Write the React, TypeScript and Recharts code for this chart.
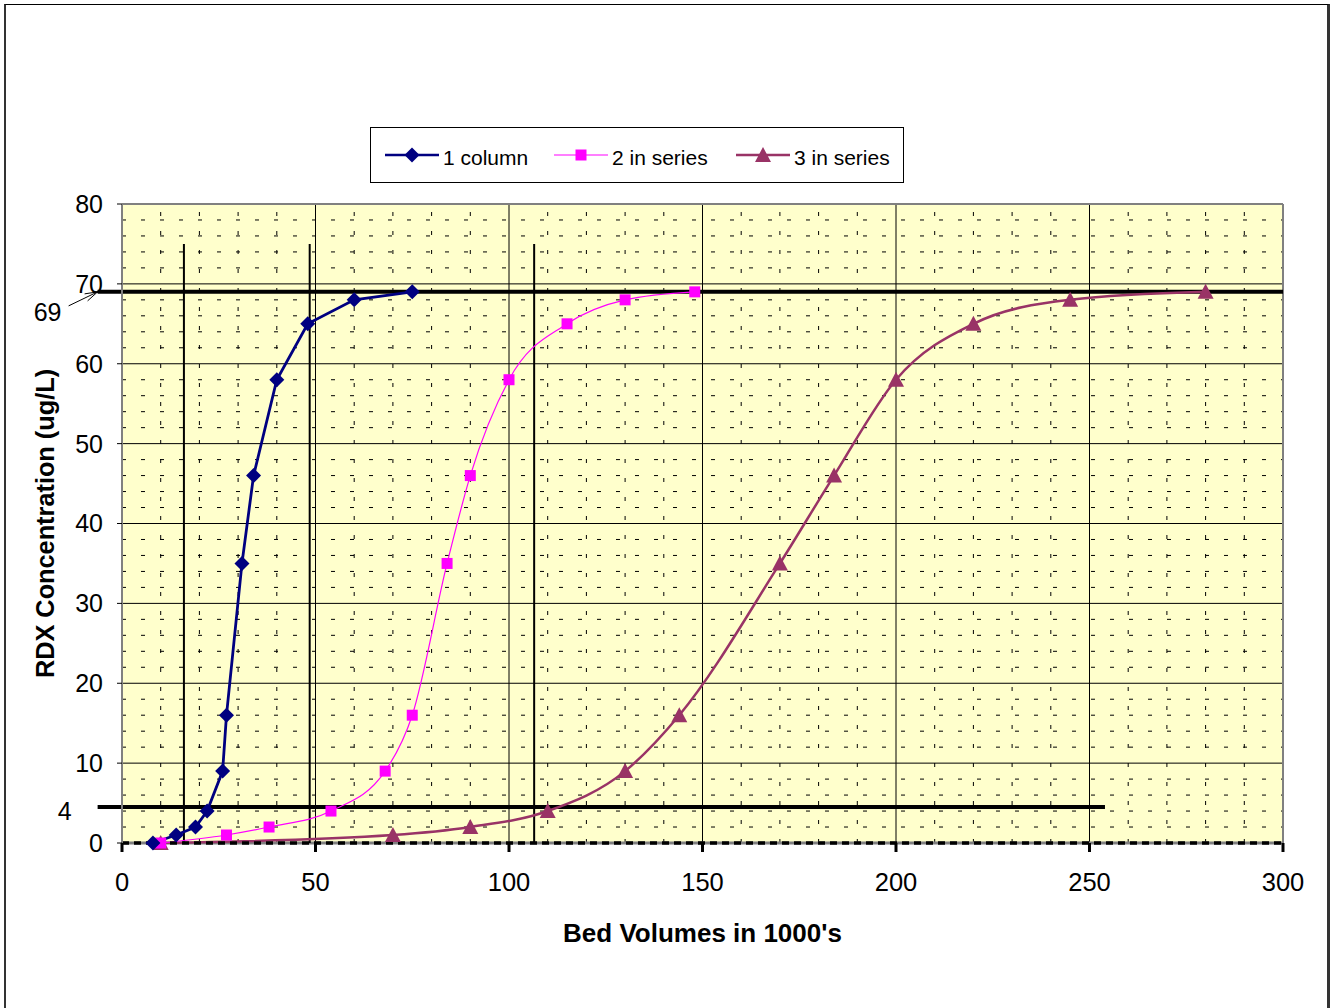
import React from 'react';
import { LineChart, Line, XAxis, YAxis, CartesianGrid, ReferenceLine } from 'recharts';

// Breakthrough data (bed volumes in 1000's vs RDX ug/L)
const oneColumn = [
  { x: 8, y: 0 }, { x: 14, y: 1 }, { x: 19, y: 2 }, { x: 22, y: 4 },
  { x: 26, y: 9 }, { x: 27, y: 16 }, { x: 31, y: 35 }, { x: 34, y: 46 },
  { x: 40, y: 58 }, { x: 48, y: 65 }, { x: 60, y: 68 }, { x: 75, y: 69 },
];
const twoInSeries = [
  { x: 10, y: 0 }, { x: 27, y: 1 }, { x: 38, y: 2 }, { x: 54, y: 4 },
  { x: 68, y: 9 }, { x: 75, y: 16 }, { x: 84, y: 35 }, { x: 90, y: 46 },
  { x: 100, y: 58 }, { x: 115, y: 65 }, { x: 130, y: 68 }, { x: 148, y: 69 },
];
const threeInSeries = [
  { x: 10, y: 0 }, { x: 70, y: 1 }, { x: 90, y: 2 }, { x: 110, y: 4 },
  { x: 130, y: 9 }, { x: 144, y: 16 }, { x: 170, y: 35 }, { x: 184, y: 46 },
  { x: 200, y: 58 }, { x: 220, y: 65 }, { x: 245, y: 68 }, { x: 280, y: 69 },
];

const xTicks = [0, 50, 100, 150, 200, 250, 300];
const yTicks = [0, 10, 20, 30, 40, 50, 60, 70, 80];
const minorX = [10, 20, 30, 40, 60, 70, 80, 90, 110, 120, 130, 140, 160, 170, 180, 190, 210, 220, 230, 240, 260, 270, 280, 290];
const minorY = [2, 4, 6, 8, 12, 14, 16, 18, 22, 24, 26, 28, 32, 34, 36, 38, 42, 44, 46, 48, 52, 54, 56, 58, 62, 64, 66, 68, 72, 74, 76, 78];
const markerLines = [16, 48.5, 106.5];

const font = '"Liberation Sans", Arial, sans-serif';
const NAVY = '#000080';
const MAGENTA = '#FF00FF';
const PLUM = '#993366';

const diamond = (cx: number, cy: number, key?: string) => (
  <path key={key} d={`M${cx},${cy - 7.5} L${cx + 7.5},${cy} L${cx},${cy + 7.5} L${cx - 7.5},${cy} Z`} fill={NAVY} />
);
const square = (cx: number, cy: number, key?: string) => (
  <rect key={key} x={cx - 5.5} y={cy - 5.5} width={11} height={11} fill={MAGENTA} />
);
const triangle = (cx: number, cy: number, key?: string) => (
  <path key={key} d={`M${cx},${cy - 8} L${cx + 8},${cy + 7} L${cx - 8},${cy + 7} Z`} fill={PLUM} />
);

const dotFn = (shape: typeof diamond) => (props: any) => {
  const { cx, cy, index } = props;
  if (cx == null || cy == null) return <g key={`e${index}`} />;
  return shape(cx, cy, `d${index}`);
};

const legendItems = [
  { name: '1 column', color: NAVY, width: 2.5, shape: diamond, left: 13 },
  { name: '2 in series', color: MAGENTA, width: 1.2, shape: square, left: 182 },
  { name: '3 in series', color: PLUM, width: 2.5, shape: triangle, left: 364 },
];

const App: React.FC = () => {
  return (
    <div style={{ position: 'absolute', left: 0, top: 0, width: 1330, height: 1008, overflow: 'hidden', background: '#fff', fontFamily: font }}>
      <div style={{ position: 'absolute', left: 4, top: 4, width: 1321, height: 1010, borderTop: '1px solid #000', borderLeft: '2px solid #333', borderRight: '3px solid #333' }} />

      <div style={{ position: 'absolute', left: 0, top: 0 }}>
        <LineChart width={1330} height={1008} margin={{ top: 204, right: 47, bottom: 0, left: 0 }}>
          <CartesianGrid fill="#FFFFCC" fillOpacity={1} stroke="#000" strokeWidth={1} />
          {minorY.map((v) => (
            <ReferenceLine key={`my${v}`} y={v} stroke="#000" strokeWidth={1} strokeDasharray="4 15" />
          ))}
          {minorX.map((v) => (
            <ReferenceLine key={`mx${v}`} x={v} stroke="#000" strokeWidth={1} strokeDasharray="4 15" />
          ))}
          <ReferenceLine y={80} stroke="#808080" strokeWidth={2} />
          <ReferenceLine x={300} stroke="#808080" strokeWidth={2} />
          <ReferenceLine y={0} stroke="#808080" strokeWidth={3} />
          {markerLines.map((v) => (
            <ReferenceLine key={`v${v}`} segment={[{ x: v, y: 0 }, { x: v, y: 75 }]} stroke="#000" strokeWidth={2} />
          ))}
          <ReferenceLine
            segment={[{ x: -6.3, y: 69 }, { x: 300, y: 69 }]}
            ifOverflow="visible"
            stroke="#000"
            strokeWidth={4}
            label={{
              content: (p: any) => {
                const vb = p.viewBox || { x: 98, y: 292 };
                return (
                  <g>
                    <text x={vb.x - 50} y={vb.y + 20} textAnchor="middle" dominantBaseline="central" fontSize={25} fontFamily={font} fill="#000">69</text>
                    <line x1={vb.x - 29} y1={vb.y + 14} x2={vb.x} y2={vb.y} stroke="#000" strokeWidth={1} />
                    <path d={`M${vb.x - 10},${vb.y + 9} L${vb.x},${vb.y} L${vb.x - 13},${vb.y + 2}`} fill="none" stroke="#000" strokeWidth={1} />
                  </g>
                );
              },
            }}
          />
          <ReferenceLine
            segment={[{ x: -6.3, y: 4.5 }, { x: 254, y: 4.5 }]}
            ifOverflow="visible"
            stroke="#000"
            strokeWidth={4}
            label={{
              content: (p: any) => {
                const vb = p.viewBox || { x: 98, y: 807 };
                return (
                  <text x={vb.x - 33} y={vb.y + 4} textAnchor="middle" dominantBaseline="central" fontSize={25} fontFamily={font} fill="#000">4</text>
                );
              },
            }}
          />
          <XAxis
            dataKey="x"
            type="number"
            domain={[0, 300]}
            ticks={xTicks}
            interval={0}
            height={165}
            axisLine={{ stroke: '#000', strokeWidth: 3.5, strokeDasharray: '7 5' }}
            tickLine={{ stroke: '#000', strokeWidth: 3 }}
            tickSize={9}
            tickMargin={21}
            tick={{ fontSize: 25.5, fill: '#000', fontFamily: font }}
            label={{
              content: (p: any) => {
                const vb = p.viewBox || { x: 122, y: 843, width: 1161 };
                return (
                  <text x={vb.x + vb.width / 2} y={vb.y + 90} textAnchor="middle" dominantBaseline="central" fontSize={26} fontWeight="bold" fontFamily={font} fill="#000">
                    Bed Volumes in 1000's
                  </text>
                );
              },
            }}
          />
          <YAxis
            type="number"
            domain={[0, 80]}
            ticks={yTicks}
            interval={0}
            width={122}
            axisLine={{ stroke: '#808080', strokeWidth: 2 }}
            tickLine={{ stroke: '#000', strokeWidth: 1 }}
            tickSize={5}
            tickMargin={14}
            tick={{ fontSize: 25, fill: '#000', fontFamily: font }}
            label={{
              content: (p: any) => {
                const vb = p.viewBox || { x: 0, y: 204, height: 639 };
                const cx = vb.x + 45;
                const cy = vb.y + vb.height / 2;
                return (
                  <text x={cx} y={cy} transform={`rotate(-90 ${cx} ${cy})`} textAnchor="middle" dominantBaseline="central" fontSize={25.3} fontWeight="bold" fontFamily={font} fill="#000">
                    RDX Concentration (ug/L)
                  </text>
                );
              },
            }}
          />
          <Line data={threeInSeries} dataKey="y" type="monotone" stroke={PLUM} strokeWidth={2.5} dot={dotFn(triangle)} isAnimationActive={false} name="3 in series" />
          <Line data={twoInSeries} dataKey="y" type="monotone" stroke={MAGENTA} strokeWidth={1.2} dot={dotFn(square)} isAnimationActive={false} name="2 in series" />
          <Line data={oneColumn} dataKey="y" type="linear" stroke={NAVY} strokeWidth={2.8} dot={dotFn(diamond)} isAnimationActive={false} name="1 column" />
        </LineChart>
      </div>

      <div style={{ position: 'absolute', left: 370, top: 127, width: 534, height: 56, boxSizing: 'border-box', border: '1px solid #000', background: '#fff' }}>
        {legendItems.map((it) => (
          <div key={it.name} style={{ position: 'absolute', left: it.left, top: 0, height: 54, display: 'flex', alignItems: 'center', whiteSpace: 'nowrap' }}>
            <svg width={56} height={20} style={{ display: 'block' }}>
              <line x1={1} y1={10} x2={55} y2={10} stroke={it.color} strokeWidth={it.width} />
              {it.shape(28, 10)}
            </svg>
            <span style={{ fontSize: 21, color: '#000', marginLeft: 3, position: 'relative', top: 3 }}>{it.name}</span>
          </div>
        ))}
      </div>
    </div>
  );
};

export default App;
